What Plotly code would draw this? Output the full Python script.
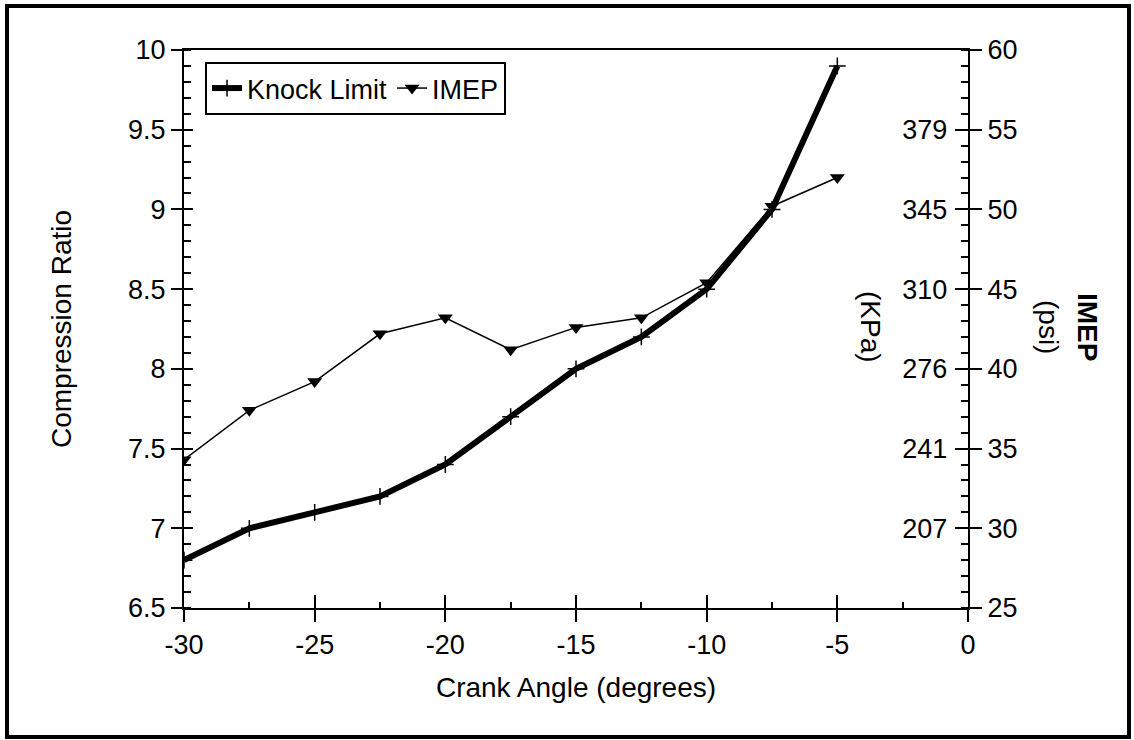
import plotly.graph_objects as go

# Spark timing sweep: knock-limited compression ratio and IMEP
crank_angle = [-30, -27.5, -25, -22.5, -20, -17.5, -15, -12.5, -10, -7.5, -5]
knock_limit = [6.8, 7.0, 7.1, 7.2, 7.4, 7.7, 8.0, 8.2, 8.5, 9.0, 9.9]
imep_psi = [34.3, 37.4, 39.2, 42.2, 43.2, 41.2, 42.6, 43.2, 45.4, 50.2, 52.0]

angle_ticks = [-30, -25, -20, -15, -10, -5, 0]
angle_labels = ["-30", "-25", "-20", "-15", "-10", "-5", "0"]
ratio_ticks = [6.5, 7, 7.5, 8, 8.5, 9, 9.5, 10]
ratio_labels = ["6.5", "7", "7.5", "8", "8.5", "9", "9.5", "10"]
psi_ticks = [30, 35, 40, 45, 50, 55]
kpa_labels = ["207", "241", "276", "310", "345", "379"]

FONT = "Liberation Sans, Arial, sans-serif"
L, R, T, B = 184, 166, 50, 132
W, H = 1134, 740
PW, PH = W - L - R, H - T - B


def px_x(x):
    return (x - L) / PW


def px_y(y):
    return (H - B - y) / PH


fig = go.Figure()

fig.add_trace(go.Scatter(
    x=crank_angle, y=knock_limit, name="Knock Limit", mode="lines+markers",
    line=dict(color="black", width=6),
    marker=dict(symbol="cross-thin", size=12, color="black",
                line=dict(color="black", width=1.5)),
    xaxis="x", yaxis="y",
))
fig.add_trace(go.Scatter(
    x=crank_angle, y=imep_psi, name="IMEP", mode="lines+markers",
    line=dict(color="black", width=1.5),
    marker=dict(symbol="triangle-down", size=13, color="black"),
    xaxis="x", yaxis="y2",
))

tick_font = dict(family=FONT, size=27, color="black")
title_font = dict(family=FONT, size=28, color="black")

fig.update_layout(
    width=W, height=H,
    margin=dict(l=L, r=R, t=T, b=B),
    paper_bgcolor="white", plot_bgcolor="white",
    font=dict(family=FONT, size=27, color="black"),
    showlegend=True,
    legend=dict(
        x=px_x(205), y=px_y(62), xanchor="left", yanchor="top",
        orientation="h", bgcolor="white", bordercolor="black", borderwidth=2,
        font=dict(family=FONT, size=27, color="black"),
        itemwidth=30, tracegroupgap=0,
    ),
    xaxis=dict(
        range=[-30, 0], tickvals=angle_ticks, ticktext=angle_labels,
        ticks="outside", ticklen=12, tickwidth=2, tickcolor="black",
        minor=dict(tickvals=[-27.5, -22.5, -17.5, -12.5, -7.5, -2.5],
                   ticks="inside", ticklen=6, tickwidth=2, tickcolor="black"),
        showline=True, linewidth=2, linecolor="black", mirror=True,
        showgrid=False, zeroline=False, tickfont=tick_font,
        title=dict(text="Crank Angle (degrees)", standoff=18, font=title_font),
    ),
    xaxis2=dict(
        range=[-30, 0], tickvals=angle_ticks, overlaying="x", anchor="y", side="bottom",
        ticks="inside", ticklen=13, tickwidth=2, tickcolor="black",
        showticklabels=False, showline=False, showgrid=False, zeroline=False,
    ),
    yaxis=dict(
        range=[6.5, 10], tickvals=ratio_ticks, ticktext=ratio_labels,
        ticks="outside", ticklen=11, tickwidth=2, tickcolor="black",
        minor=dict(dtick=0.1, tick0=6.5, ticks="inside", ticklen=7, tickwidth=2, tickcolor="black"),
        showline=True, linewidth=2, linecolor="black",
        showgrid=False, zeroline=False, tickfont=tick_font,
        title=dict(text="Compression Ratio", standoff=48, font=title_font),
    ),
    yaxis3=dict(
        range=[6.5, 10], tickvals=ratio_ticks, overlaying="y", anchor="x", side="left",
        ticks="inside", ticklen=9, tickwidth=2, tickcolor="black",
        showticklabels=False, showline=False, showgrid=False, zeroline=False,
    ),
    yaxis2=dict(
        range=[25, 60], dtick=5, overlaying="y", anchor="x", side="right",
        ticks="outside", ticklen=12, tickwidth=2, tickcolor="black",
        minor=dict(dtick=1, ticks="inside", ticklen=7, tickwidth=2, tickcolor="black"),
        showline=True, linewidth=2, linecolor="black",
        showgrid=False, zeroline=False, tickfont=tick_font,
    ),
    yaxis4=dict(
        range=[25, 60], tickvals=psi_ticks, ticktext=kpa_labels,
        overlaying="y", anchor="x2", side="right",
        ticks="inside", ticklen=13, tickwidth=2, tickcolor="black",
        ticklabelposition="inside", ticklabelstandoff=10,
        showline=False, showgrid=False, zeroline=False,
        tickfont=tick_font,
    ),
)

# invisible traces so the overlay axes are rendered
fig.add_trace(go.Scatter(x=[None], y=[None], xaxis="x2", yaxis="y3", showlegend=False, hoverinfo="skip"))
fig.add_trace(go.Scatter(x=[None], y=[None], xaxis="x2", yaxis="y4", showlegend=False, hoverinfo="skip"))

# right-hand axis titles
for text, xp in [("(KPa)", 871), ("(psi)", 1049), ("<b>IMEP</b>", 1088)]:
    fig.add_annotation(
        text=text, x=px_x(xp), y=px_y(327), xref="paper", yref="paper",
        xanchor="center", yanchor="middle", textangle=90, showarrow=False,
        font=title_font,
    )

# outer frame
fig.add_shape(
    type="rect", xref="paper", yref="paper",
    x0=px_x(7), x1=px_x(1129), y0=px_y(737), y1=px_y(6),
    line=dict(color="black", width=4), fillcolor="rgba(0,0,0,0)", layer="above",
)

fig.write_html("out.html")
